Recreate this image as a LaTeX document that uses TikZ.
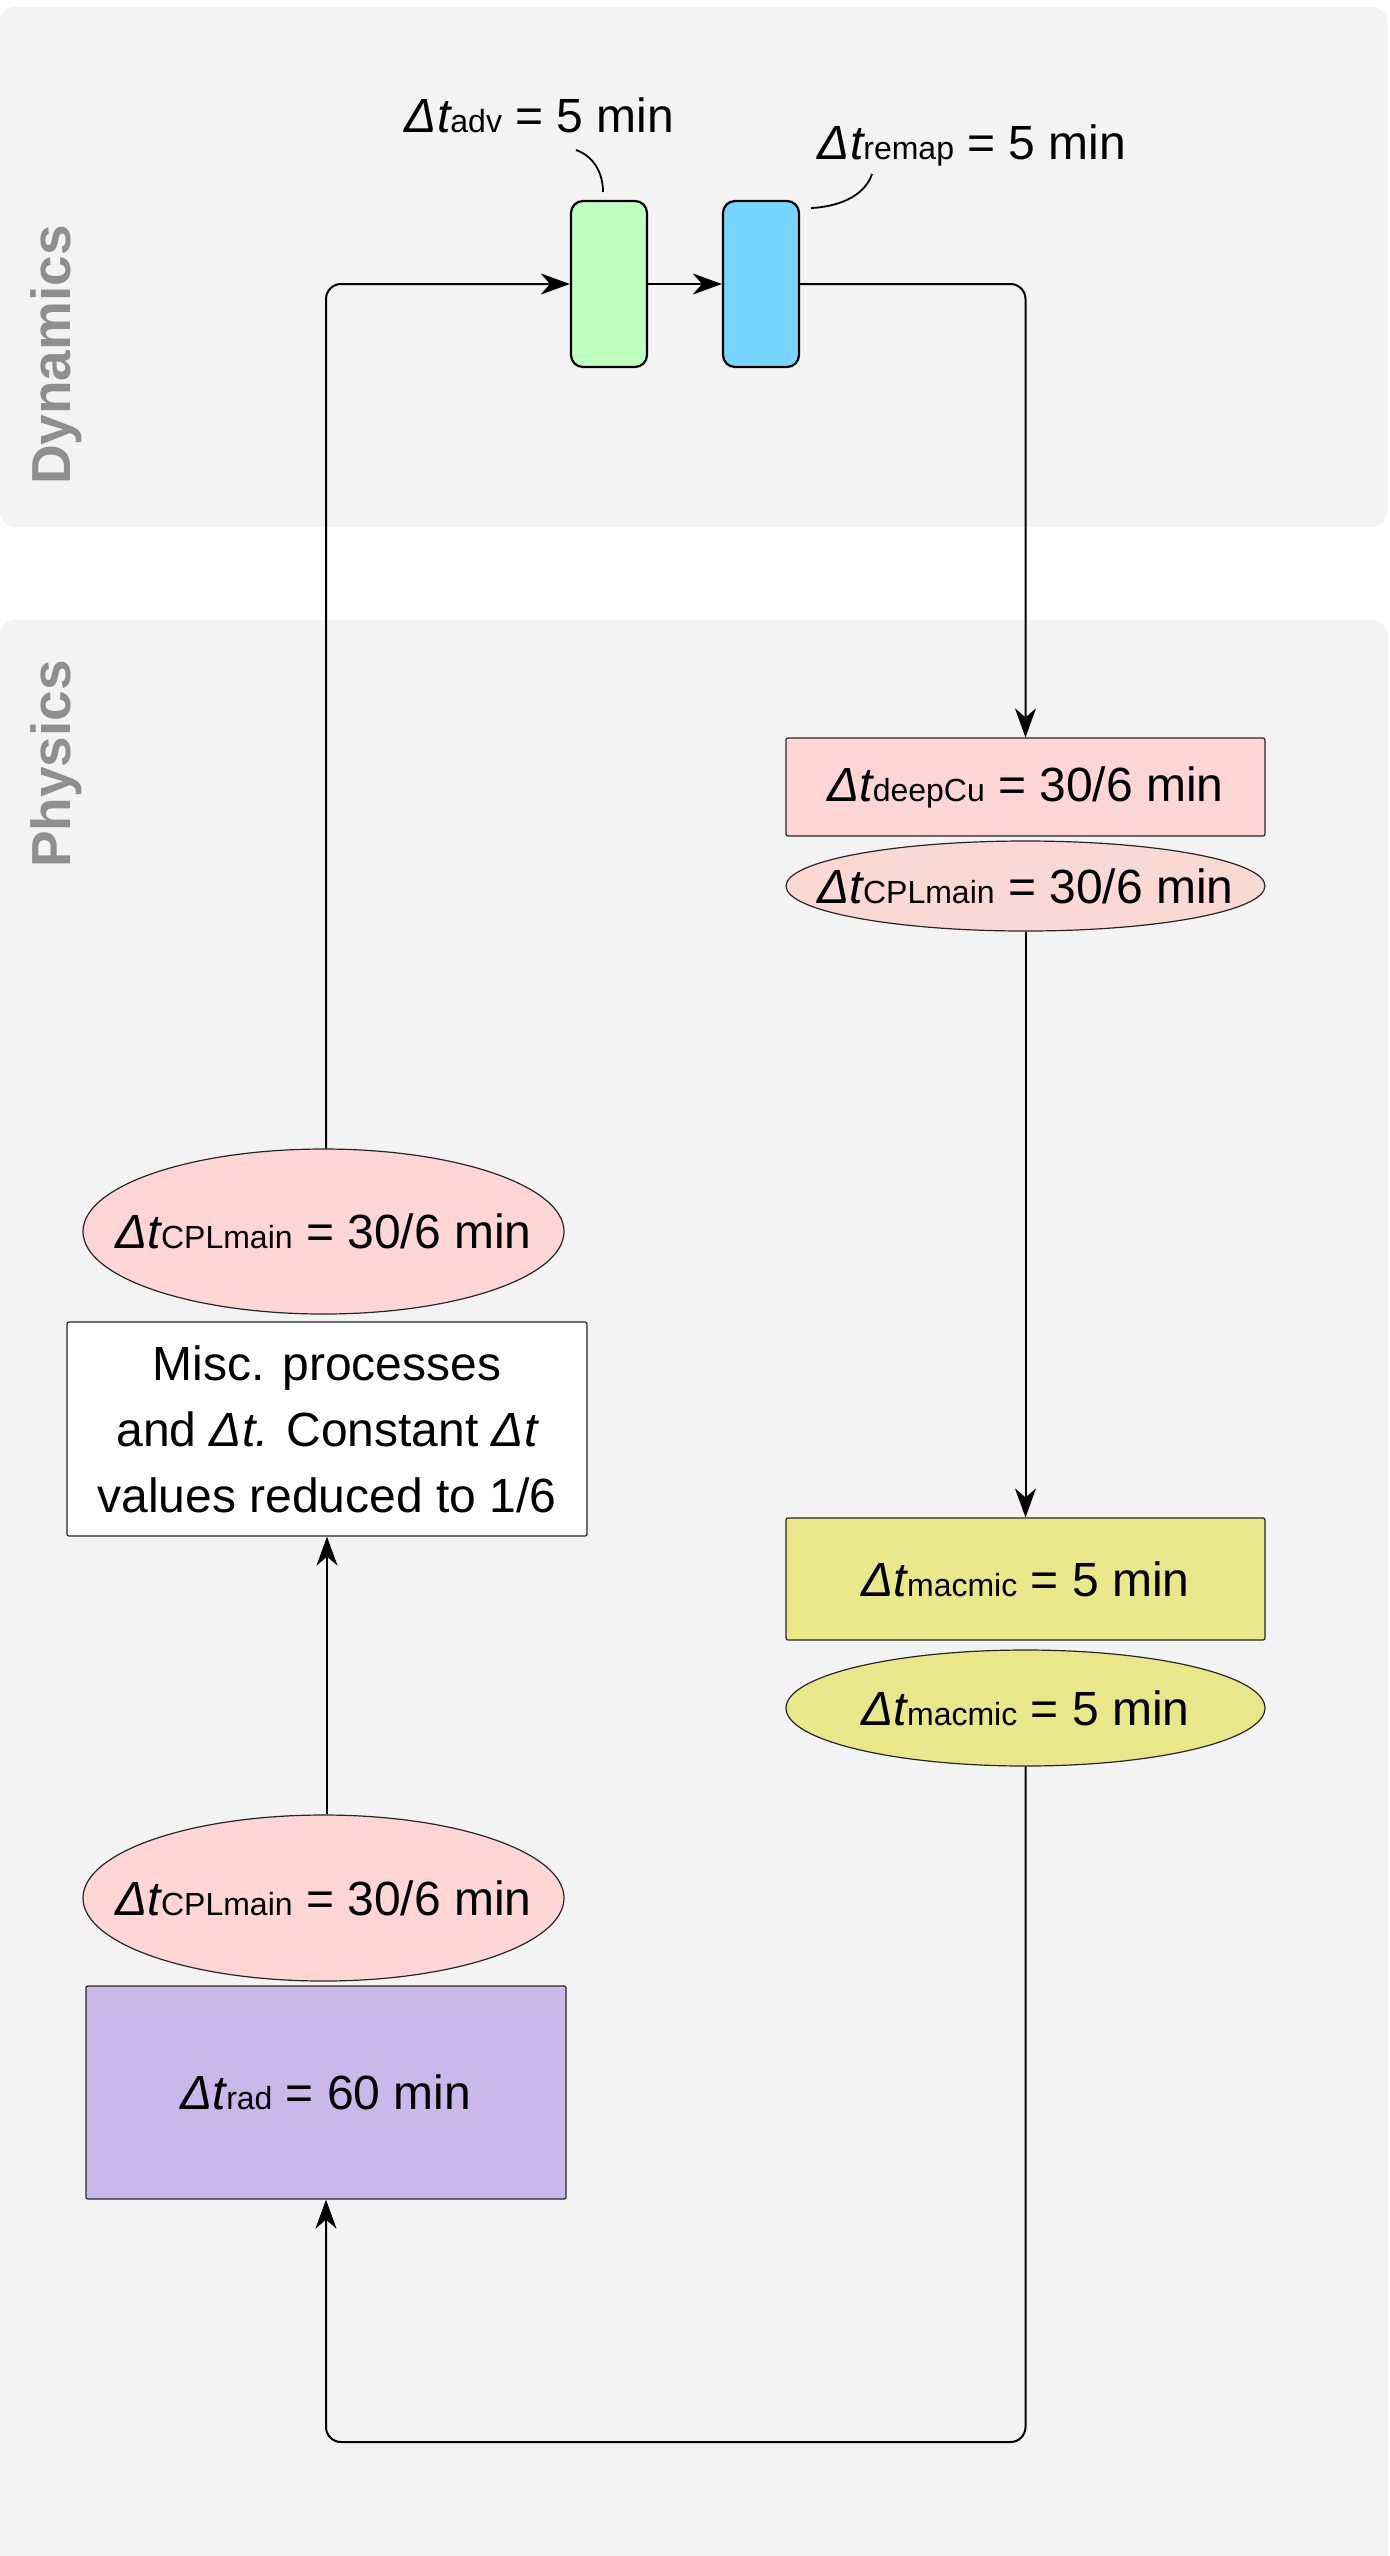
\documentclass[tikz,border=0pt]{standalone}
\usepackage{fontspec}
\setmainfont{Liberation Sans}
\usetikzlibrary{arrows.meta,shapes.geometric}
\definecolor{panelgrey}{HTML}{F3F3F3}
\definecolor{lblgrey}{HTML}{8F8F8F}
\definecolor{advgreen}{HTML}{BFFFBF}
\definecolor{remapblue}{HTML}{76D6FF}
\definecolor{pinkR}{HTML}{FFD5D5}
\definecolor{pinkE}{HTML}{FAD9D5}
\definecolor{yel}{HTML}{E8E88A}
\definecolor{purp}{HTML}{C9B8EA}
\newcommand{\mainsz}{\fontsize{24}{33}\selectfont}
\newcommand{\dtx}[1]{{\itshape Δt}{\fontsize{16}{16}\selectfont #1}}
\tikzset{
  conn/.style={line width=1pt, -{Stealth[length=14.5pt,width=10.5pt,inset=4.5pt]}, rounded corners=7.5pt},
  callout/.style={line width=0.9pt},
  dynbox/.style={draw=black, line width=1.1pt, rounded corners=6pt, minimum width=38pt, minimum height=83pt, inner sep=0},
  physbox/.style={draw=black!85, line width=0.6pt, rounded corners=1pt, inner sep=0, font=\mainsz},
  physell/.style={ellipse, draw=black!85, line width=0.6pt, inner sep=0, font=\mainsz},
  toplbl/.style={font=\mainsz, anchor=base, inner sep=0},
  lanelbl/.style={font=\fontsize{27.5}{30}\selectfont\bfseries, text=lblgrey, rotate=90, anchor=base, inner sep=0},
}
\begin{document}
\begin{tikzpicture}[x=0.5pt,y=-0.5pt]
\useasboundingbox (0,0) rectangle (1389,2556);
\clip (0,0) rectangle (1389,2556);
% panels
\fill[panelgrey, rounded corners=7.5pt] (0,7) rectangle (1387,527);
\fill[panelgrey, rounded corners=7.5pt] (0,620) rectangle (1388,2620);
\node[lanelbl] (dynl) at (70,355) {Dynamics};
\node[lanelbl] (physl) at (70,764) {Physics};
% dynamics boxes
\node[dynbox, fill=advgreen] (adv) at (609,284) {};
\node[dynbox, fill=remapblue] (remap) at (761,284) {};
\node[toplbl] (advlbl) at (539.5,132) {\dtx{adv} = 5 min};
\node[toplbl] (remaplbl) at (972,159) {\dtx{remap} = 5 min};
\coordinate (advc0) at (576,150);
\coordinate (advc1) at (603,192);
\coordinate (rmc0) at (872,174);
\coordinate (rmc1) at (811,208);
\draw[callout] (advc0) .. controls (593,156) and (603,172) .. (advc1);
\draw[callout] (rmc0) .. controls (864,198) and (835,207) .. (rmc1);
% physics right column
\node[physbox, fill=pinkR, minimum width=239.5pt, minimum height=49pt] (deepCu) at (1025.5,787) {\dtx{deepCu} = 30/6 min};
\node[physell, fill=pinkE, minimum width=239.5pt, minimum height=45pt] (cplR) at (1025.5,886) {\makebox[0pt]{\dtx{CPLmain} = 30/6 min}};
\node[physbox, fill=yel, minimum width=239.5pt, minimum height=61pt] (macR) at (1025.5,1579) {\dtx{macmic} = 5 min};
\node[physell, fill=yel, minimum width=239.5pt, minimum height=58pt] (macE) at (1025.5,1708) {\makebox[0pt]{\dtx{macmic} = 5 min}};
% physics left column
\node[physell, fill=pinkR, minimum width=240.5pt, minimum height=82.5pt] (cplA) at (323.5,1231.5) {\makebox[0pt]{\dtx{CPLmain} = 30/6 min}};
\node[physbox, fill=white, minimum width=260pt, minimum height=107pt, align=center] (misc) at (327,1429) {Misc. processes\\and {\itshape Δt.} Constant {\itshape Δt}\\values reduced to 1/6};
\node[physell, fill=pinkR, minimum width=240.5pt, minimum height=83pt] (cplB) at (323.5,1898) {\makebox[0pt]{\dtx{CPLmain} = 30/6 min}};
\node[physbox, fill=purp, minimum width=240pt, minimum height=106.5pt] (rad) at (326,2092.5) {\dtx{rad} = 60 min};
% connectors
\draw[conn] (cplA.north -| rad.center) |- (adv.west);
\draw[conn] (adv.east) -- (remap.west);
\draw[conn] (remap.east) -| (deepCu.north);
\draw[conn] (cplR.south) -- (macR.north);
\coordinate (loopc) at (326,2442);
\draw[conn] (macE.south) |- (loopc) -- (rad.south);
\draw[conn] (cplB.north -| misc.center) -- (misc.south);
\end{tikzpicture}
\end{document}
